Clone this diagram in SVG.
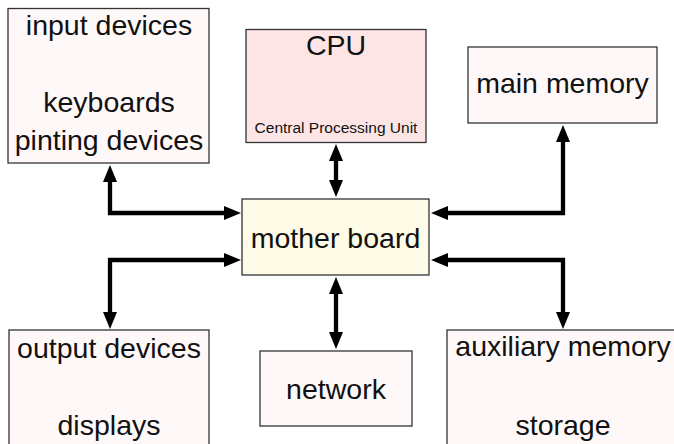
<svg xmlns="http://www.w3.org/2000/svg" width="674" height="444" viewBox="0 0 674 444">
<style>
.box{fill:#fff8f8;stroke:#333;stroke-width:1.3}
.cpu{fill:#fde5e5}
.mb{fill:#fefbe6}
text{font-family:"Liberation Sans",Arial,sans-serif;font-size:28.5px;fill:#111;text-anchor:middle}
.small{font-size:15.5px}
.conn{fill:none;stroke:#000;stroke-width:4.3;stroke-linejoin:miter;marker-start:url(#ah);marker-end:url(#ah)}
</style>
<defs>
<marker id="ah" markerUnits="userSpaceOnUse" markerWidth="18" markerHeight="15" refX="0" refY="7" orient="auto-start-reverse" viewBox="0 0 18 14">
<path d="M0,0 L17,7 L0,14 z" fill="#000"/>
</marker>
</defs>
<g id="input">
<rect class="box" x="8" y="8.5" width="201" height="154.5"/>
<text x="109" y="35">input devices</text>
<text x="109" y="112">keyboards</text>
<text x="109" y="150">pinting devices</text>
</g>
<g id="cpu">
<rect class="box cpu" x="246" y="29.5" width="180" height="113"/>
<text x="336" y="55">CPU</text>
<text class="small" x="336" y="133">Central Processing Unit</text>
</g>
<g id="mainmemory">
<rect class="box" x="468" y="47" width="189" height="76"/>
<text x="562.5" y="93">main memory</text>
</g>
<g id="motherboard">
<rect class="box mb" x="242" y="199" width="187" height="76"/>
<text x="335.5" y="248">mother board</text>
</g>
<g id="output">
<rect class="box" x="9" y="330" width="200" height="130"/>
<text x="109" y="358">output devices</text>
<text x="109" y="435">displays</text>
</g>
<g id="network">
<rect class="box" x="260" y="351" width="152" height="75"/>
<text x="336" y="399">network</text>
</g>
<g id="auxmemory">
<rect class="box" x="447" y="330" width="232" height="130"/>
<text x="563" y="356">auxiliary memory</text>
<text x="563" y="435">storage</text>
</g>
<g id="connectors">
<path class="conn" d="M224,213 H110 V182"/>
<path class="conn" d="M224,260 H110 V312"/>
<path class="conn" d="M448,213 H563 V142"/>
<path class="conn" d="M448,260 H563 V312"/>
<path class="conn" d="M336,161 V180"/>
<path class="conn" d="M336,294 V332"/>
</g>
</svg>
